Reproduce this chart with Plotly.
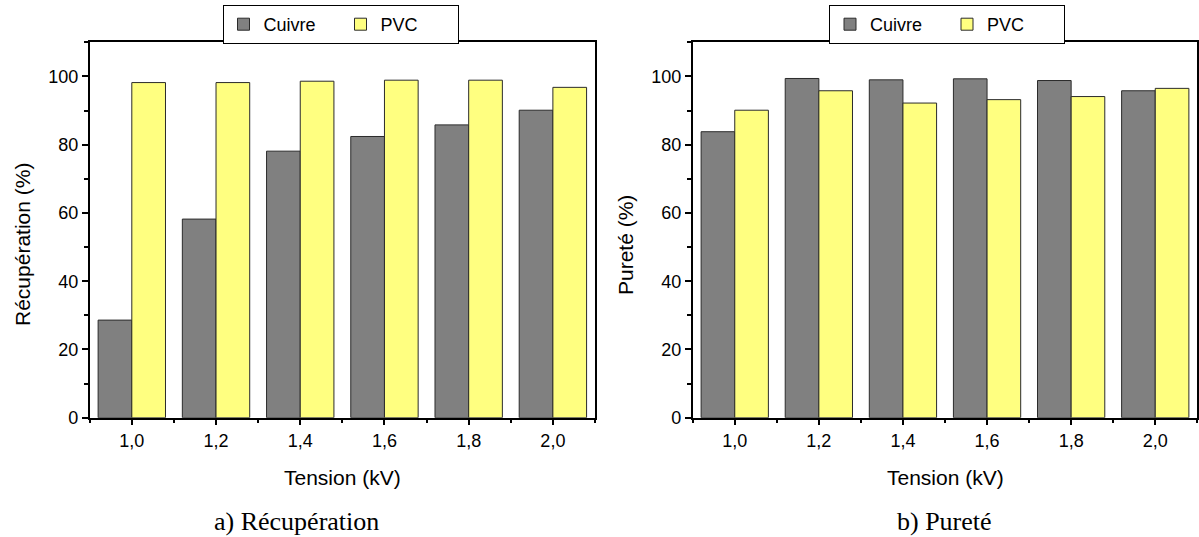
import plotly.graph_objects as go

# ---- data ----
tension = [1.0, 1.2, 1.4, 1.6, 1.8, 2.0]
tick_labels = ["1,0", "1,2", "1,4", "1,6", "1,8", "2,0"]
recup_cuivre = [28.6, 58.2, 78.1, 82.4, 85.8, 90.1]
recup_pvc = [98.2, 98.2, 98.6, 98.9, 98.9, 96.8]
purete_cuivre = [83.8, 99.4, 99.0, 99.3, 98.8, 95.8]
purete_pvc = [90.1, 95.8, 92.2, 93.2, 94.1, 96.5]
y_ticks = [0, 20, 40, 60, 80, 100]

GRAY = "#808080"
YELLOW = "#FFFF80"
EDGE = "#2b2b2b"
SANS = "Liberation Sans, Arial, sans-serif"
SERIF = "Liberation Serif, Times New Roman, serif"

W, H = 1199, 537
def px(v):
    return v / W
def py(v):
    return 1 - v / H

fig = go.Figure()

def add_bars(xa, ya, cu, pv, legend):
    fig.add_trace(go.Bar(x=tension, y=cu, name="Cuivre", marker=dict(color=GRAY, line=dict(color=EDGE, width=1)),
                         xaxis=xa, yaxis=ya, legend=legend))
    fig.add_trace(go.Bar(x=tension, y=pv, name="PVC", marker=dict(color=YELLOW, line=dict(color=EDGE, width=1)),
                         xaxis=xa, yaxis=ya, legend=legend))

add_bars("x", "y", recup_cuivre, recup_pvc, "legend")
add_bars("x2", "y2", purete_cuivre, purete_pvc, "legend2")

xr = [0.9, 2.1]
yr = [0, 110]
dom_y = [py(417.7), py(42.3)]
dom_x1 = [px(89.7), px(595)]
dom_x2 = [px(692.7), px(1197.3)]

tickfont = dict(family=SANS, size=18, color="black")

def xaxis(domain, anchor):
    return dict(domain=domain, anchor=anchor, range=xr, tickvals=tension, ticktext=tick_labels,
                ticks="outside", ticklen=6, tickwidth=1.5, tickcolor="black",
                minor=dict(ticks="outside", dtick=0.1, tick0=1.0, ticklen=3.5, tickwidth=1.5, tickcolor="black"),
                showline=True, linecolor="black", linewidth=1.5, mirror=True,
                showgrid=False, zeroline=False, tickfont=tickfont, automargin=False)

def yaxis(domain, anchor):
    return dict(domain=domain, anchor=anchor, range=yr, tickvals=y_ticks,
                ticks="outside", ticklen=6, tickwidth=1.5, tickcolor="black",
                minor=dict(ticks="outside", dtick=10, tick0=0, ticklen=3.5, tickwidth=1.5, tickcolor="black"),
                showline=True, linecolor="black", linewidth=1.5, mirror=True,
                showgrid=False, zeroline=False, tickfont=tickfont, automargin=False)

def xtop(domain, over, anchor):
    return dict(domain=domain, overlaying=over, anchor=anchor, side="top", range=xr, tickvals=tension,
                showticklabels=False, ticks="inside", ticklen=6, tickwidth=1.5, tickcolor="black",
                minor=dict(ticks="inside", dtick=0.1, tick0=1.0, ticklen=3.5, tickwidth=1.5, tickcolor="black"),
                showline=False, showgrid=False, zeroline=False, automargin=False)

def yright(domain, over, anchor):
    return dict(domain=domain, overlaying=over, anchor=anchor, side="right", range=yr, tickvals=y_ticks,
                showticklabels=False, ticks="inside", ticklen=6, tickwidth=1.5, tickcolor="black",
                minor=dict(ticks="inside", dtick=10, tick0=0, ticklen=3.5, tickwidth=1.5, tickcolor="black"),
                showline=False, showgrid=False, zeroline=False, automargin=False)

legend_style = dict(orientation="h", xanchor="center", yanchor="top", y=py(5),
                    bordercolor="black", borderwidth=1, bgcolor="white",
                    font=dict(family=SANS, size=18, color="black"), itemwidth=30,
                    entrywidth=72, entrywidthmode="pixels", tracegroupgap=0)

fig.update_layout(
    width=W, height=H, autosize=False,
    margin=dict(l=0, r=0, t=0, b=0, pad=0, autoexpand=False),
    paper_bgcolor="white", plot_bgcolor="white",
    barmode="group", bargap=0.2, bargroupgap=0,
    font=dict(family=SANS, color="black"),
    xaxis=xaxis(dom_x1, "y"),
    yaxis=yaxis(dom_y, "x"),
    xaxis2=xaxis(dom_x2, "y2"),
    yaxis2=yaxis(dom_y, "x2"),
    xaxis3=xtop(dom_x1, "x", "y"),
    yaxis3=yright(dom_y, "y", "x"),
    xaxis4=xtop(dom_x2, "x2", "y2"),
    yaxis4=yright(dom_y, "y2", "x2"),
    legend=dict(legend_style, x=px(340.5)),
    legend2=dict(legend_style, x=px(947)),
    showlegend=True,
)

title_font = dict(family=SANS, size=21, color="black")
caption_font = dict(family=SERIF, size=26, color="black")
ann = [
    dict(text="Récupération (%)", x=px(22), y=py(245), textangle=-90, font=title_font),
    dict(text="Pureté (%)", x=px(625), y=py(245), textangle=-90, font=title_font),
    dict(text="Tension (kV)", x=px(342.5), y=py(477), font=title_font),
    dict(text="Tension (kV)", x=px(945), y=py(477), font=title_font),
    dict(text="a) Récupération", x=px(296), y=py(521), font=caption_font),
    dict(text="b) Pureté", x=px(944), y=py(521), font=caption_font),
]
for a in ann:
    fig.add_annotation(xref="paper", yref="paper", showarrow=False, xanchor="center", yanchor="middle", **a)

fig.write_html("out.html",
               config={"responsive": False, "displayModeBar": False},
               post_script="document.body.style.margin='0';document.body.style.overflow='hidden';")
